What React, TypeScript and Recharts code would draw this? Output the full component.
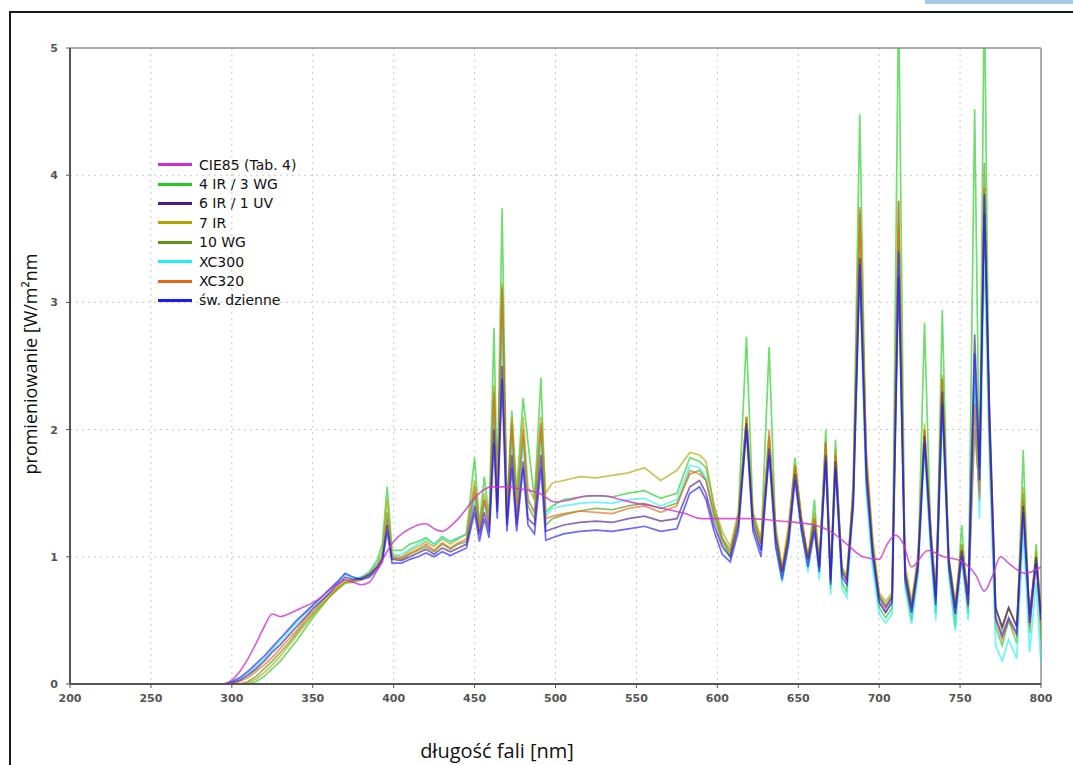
import React from 'react';
import { LineChart, Line, XAxis, YAxis, CartesianGrid, ReferenceLine } from 'recharts';

// wavelength grid shared by the lamp spectra (nm)
const wavelengths = [
  200, 295, 300, 305, 310, 315, 320, 325, 330, 335,
  340, 345, 350, 355, 360, 365, 370, 375, 380, 385,
  390, 393, 396, 399, 405, 410, 415, 420, 425, 430,
  435, 440, 445, 450, 453, 456, 459, 462, 464, 467,
  470, 473, 476, 480, 483, 487, 491, 494, 498, 505,
  515, 525, 535, 545, 555, 565, 575, 583, 589, 593,
  598, 603, 608, 613, 618, 622, 627, 632, 636, 640,
  644, 648, 652, 656, 660, 663, 667, 670, 673, 677,
  680, 684, 688, 692, 696, 700, 704, 708, 712, 716,
  720, 724, 728, 732, 735, 739, 743, 747, 751, 755,
  759, 762, 765, 768, 772, 776, 780, 785, 789, 793,
  797, 800,
];

const ir4wg3 = [
  0, 0, 0, 0, 0, 0.02, 0.06, 0.12, 0.18, 0.26,
  0.34, 0.43, 0.52, 0.6, 0.68, 0.75, 0.8, 0.82, 0.84, 0.88,
  0.98, 1.1, 1.55, 1.05, 1.05, 1.1, 1.12, 1.15, 1.1, 1.16,
  1.12, 1.15, 1.18, 1.78, 1.25, 1.63, 1.3, 2.8, 1.5, 3.74,
  1.35, 2.15, 1.5, 2.25, 1.9, 1.45, 2.41, 1.35, 1.4, 1.45,
  1.47, 1.48, 1.47, 1.5, 1.52, 1.46, 1.5, 1.78, 1.75, 1.7,
  1.4, 1.15, 1.0, 1.35, 2.73, 1.35, 1.1, 2.65, 1.2, 0.85,
  1.2, 1.78, 1.3, 0.95, 1.45, 0.9, 2.0, 0.75, 1.92, 0.8,
  0.72, 1.6, 4.48, 1.7, 1.0, 0.6, 0.52, 0.6, 5.4, 0.8,
  0.5, 0.9, 2.84, 1.1, 0.55, 2.94, 0.9, 0.45, 1.25, 0.55,
  4.52, 1.6, 5.5, 2.0, 0.45, 0.3, 0.5, 0.32, 1.84, 0.4,
  1.1, 0.35,
];

const ir6uv1 = [
  0, 0, 0.01, 0.03, 0.07, 0.12, 0.18, 0.25, 0.31, 0.38,
  0.45, 0.52, 0.59, 0.65, 0.71, 0.78, 0.84, 0.82, 0.83, 0.86,
  0.92, 0.98, 1.25, 0.98, 0.97, 1.0, 1.03, 1.06, 1.02, 1.07,
  1.04, 1.07, 1.1, 1.4, 1.17, 1.35, 1.2, 2.0, 1.35, 2.5,
  1.25, 1.8, 1.25, 1.75, 1.3, 1.25, 1.8, 1.2, 1.22, 1.25,
  1.27, 1.28, 1.27, 1.3, 1.32, 1.28, 1.3, 1.55, 1.6, 1.5,
  1.25, 1.08, 1.0, 1.25, 2.05, 1.25, 1.05, 1.85, 1.15, 0.88,
  1.15, 1.65, 1.25, 0.98, 1.25, 0.92, 1.8, 0.82, 1.75, 0.88,
  0.82, 1.45, 3.35, 1.7, 1.05, 0.68, 0.6, 0.68, 3.2, 0.88,
  0.6, 0.95, 1.95, 1.15, 0.68, 2.3, 0.98, 0.6, 1.05, 0.7,
  2.75, 1.7, 3.7, 2.25, 0.6, 0.45, 0.6, 0.45, 1.4, 0.55,
  1.0, 0.55,
];

const ir7 = [
  0, 0, 0, 0, 0.01, 0.04, 0.09, 0.15, 0.22, 0.3,
  0.38, 0.46, 0.54, 0.61, 0.68, 0.74, 0.79, 0.8, 0.83, 0.87,
  0.95, 1.05, 1.45, 1.02, 1.0, 1.05, 1.08, 1.12, 1.08, 1.14,
  1.1, 1.14, 1.18, 1.6, 1.25, 1.5, 1.3, 2.35, 1.45, 3.15,
  1.35, 2.1, 1.4, 2.1, 1.55, 1.45, 2.1, 1.5, 1.58, 1.6,
  1.63, 1.62, 1.64, 1.66, 1.7, 1.6, 1.68, 1.82, 1.8, 1.75,
  1.4, 1.2, 1.08, 1.35, 2.1, 1.35, 1.15, 1.9, 1.25, 0.92,
  1.25, 1.72, 1.3, 1.0, 1.35, 0.95, 1.85, 0.85, 1.85, 0.92,
  0.85, 1.55, 3.73, 1.85, 1.15, 0.72, 0.65, 0.72, 3.6, 0.95,
  0.65, 1.0, 2.05, 1.2, 0.72, 2.43, 1.0, 0.65, 1.1, 0.68,
  2.3, 1.6, 3.9, 2.1, 0.6, 0.42, 0.6, 0.45, 1.55, 0.5,
  1.05, 0.6,
];

const wg10 = [
  0, 0, 0, 0, 0.02, 0.06, 0.12, 0.18, 0.25, 0.32,
  0.4, 0.48, 0.55, 0.62, 0.68, 0.74, 0.8, 0.8, 0.82, 0.85,
  0.92, 1.0, 1.35, 1.0, 0.98, 1.02, 1.05, 1.08, 1.04, 1.1,
  1.06, 1.1, 1.12, 1.5, 1.2, 1.45, 1.25, 2.25, 1.4, 3.1,
  1.3, 2.0, 1.3, 1.95, 1.4, 1.3, 2.0, 1.25, 1.3, 1.33,
  1.36, 1.38, 1.37, 1.4, 1.42, 1.38, 1.42, 1.65, 1.68, 1.6,
  1.35, 1.15, 1.05, 1.3, 2.1, 1.3, 1.1, 1.95, 1.2, 0.9,
  1.2, 1.7, 1.3, 1.0, 1.3, 0.95, 1.9, 0.85, 1.8, 0.9,
  0.85, 1.5, 3.7, 1.8, 1.1, 0.7, 0.62, 0.7, 3.8, 0.9,
  0.62, 1.0, 2.0, 1.2, 0.7, 2.4, 1.0, 0.6, 1.1, 0.65,
  2.0, 1.5, 4.1, 2.2, 0.6, 0.45, 0.6, 0.45, 1.5, 0.55,
  1.0, 0.5,
];

const xc300 = [
  0, 0, 0.01, 0.04, 0.08, 0.14, 0.2, 0.27, 0.34, 0.41,
  0.48, 0.55, 0.61, 0.67, 0.73, 0.8, 0.86, 0.83, 0.84, 0.87,
  0.95, 1.02, 1.3, 1.0, 1.02, 1.06, 1.1, 1.14, 1.1, 1.15,
  1.12, 1.15, 1.18, 1.45, 1.22, 1.4, 1.3, 2.1, 1.45, 2.8,
  1.3, 1.9, 1.35, 1.9, 1.45, 1.35, 1.9, 1.32, 1.38, 1.4,
  1.42, 1.43, 1.42, 1.45, 1.46, 1.4, 1.45, 1.72, 1.7, 1.62,
  1.3, 1.1, 1.0, 1.25, 2.0, 1.25, 1.05, 1.85, 1.1, 0.8,
  1.1, 1.65, 1.2, 0.88, 1.25, 0.82, 1.8, 0.7, 1.7, 0.75,
  0.68, 1.4, 3.2, 1.5, 0.9, 0.55, 0.48, 0.55, 3.3, 0.75,
  0.47, 0.85, 1.85, 1.0, 0.5, 2.2, 0.85, 0.42, 1.0, 0.5,
  2.4, 1.3, 3.4, 1.8, 0.3, 0.18, 0.35, 0.2, 1.2, 0.25,
  0.8, 0.15,
];

const xc320 = [
  0, 0, 0, 0.02, 0.05, 0.1, 0.15, 0.21, 0.28, 0.35,
  0.42, 0.5, 0.57, 0.64, 0.7, 0.76, 0.82, 0.81, 0.83, 0.86,
  0.93, 1.0, 1.3, 0.99, 0.99, 1.03, 1.06, 1.1, 1.05, 1.11,
  1.07, 1.11, 1.14, 1.55, 1.2, 1.45, 1.25, 2.3, 1.4, 3.12,
  1.3, 2.05, 1.35, 2.0, 1.45, 1.35, 2.05, 1.3, 1.32, 1.34,
  1.36, 1.35, 1.34, 1.38, 1.4, 1.35, 1.4, 1.68, 1.65, 1.6,
  1.32, 1.12, 1.03, 1.3, 2.1, 1.3, 1.1, 2.0, 1.18, 0.88,
  1.18, 1.72, 1.28, 0.98, 1.3, 0.92, 1.9, 0.8, 1.8, 0.88,
  0.8, 1.5, 3.75, 1.75, 1.05, 0.65, 0.57, 0.66, 3.8, 0.85,
  0.57, 0.95, 2.0, 1.15, 0.65, 2.4, 0.95, 0.55, 1.05, 0.6,
  2.2, 1.45, 3.9, 2.0, 0.5, 0.35, 0.5, 0.38, 1.45, 0.45,
  0.95, 0.45,
];

const daylight = [
  0, 0, 0.02, 0.05, 0.1, 0.16, 0.22, 0.29, 0.36, 0.43,
  0.5, 0.56, 0.62, 0.68, 0.74, 0.8, 0.87, 0.84, 0.82, 0.84,
  0.9, 0.96, 1.2, 0.95, 0.95, 0.98, 1.0, 1.03, 1.0, 1.04,
  1.01, 1.04, 1.07, 1.35, 1.12, 1.3, 1.15, 1.9, 1.3, 2.4,
  1.2, 1.7, 1.2, 1.7, 1.25, 1.18, 1.7, 1.13, 1.15, 1.18,
  1.2, 1.21, 1.2, 1.22, 1.24, 1.2, 1.22, 1.5, 1.55, 1.45,
  1.2, 1.02, 0.96, 1.2, 2.0, 1.2, 1.0, 1.8, 1.08, 0.82,
  1.1, 1.6, 1.2, 0.92, 1.2, 0.88, 1.75, 0.78, 1.7, 0.84,
  0.78, 1.4, 3.3, 1.6, 1.0, 0.64, 0.56, 0.64, 3.4, 0.82,
  0.56, 0.9, 1.9, 1.08, 0.62, 2.2, 0.92, 0.55, 1.0, 0.62,
  2.6, 1.6, 3.85, 2.1, 0.52, 0.38, 0.52, 0.4, 1.35, 0.48,
  0.95, 0.5,
];

// CIE85 reference spectrum, its own coarser grid
const cie85Nm = [
  200, 295, 300, 305, 310, 315, 320, 325, 330, 335,
  340, 345, 350, 355, 360, 365, 370, 375, 380, 385,
  390, 395, 400, 405, 410, 415, 420, 425, 430, 435,
  440, 445, 450, 455, 460, 465, 470, 475, 480, 490,
  500, 510, 520, 530, 540, 550, 560, 570, 580, 590,
  600, 620, 640, 660, 670, 680, 690, 700, 705, 710,
  715, 720, 730, 740, 750, 760, 765, 770, 775, 780,
  790, 800,
];
const cie85 = [
  0, 0, 0.03, 0.1, 0.2, 0.32, 0.45, 0.55, 0.53, 0.55,
  0.58, 0.61, 0.64, 0.68, 0.74, 0.78, 0.82, 0.8, 0.78, 0.8,
  0.9, 1.02, 1.12, 1.18, 1.22, 1.25, 1.26, 1.22, 1.2, 1.24,
  1.3, 1.38, 1.46, 1.52, 1.55, 1.55, 1.55, 1.54, 1.53, 1.5,
  1.43, 1.45, 1.48, 1.48, 1.45, 1.42, 1.4, 1.37, 1.34, 1.3,
  1.3, 1.3, 1.28, 1.25, 1.2, 1.1, 1.0, 0.98, 1.1, 1.17,
  1.1, 0.92, 1.05, 1.0, 0.97, 0.85, 0.73, 0.85, 1.0, 0.95,
  0.87, 0.92,
];

const xTicks = [200, 250, 300, 350, 400, 450, 500, 550, 600, 650, 700, 750, 800];
const yTicks = [0, 1, 2, 3, 4, 5];

const legendItems = [
  { key: 'cie85', name: 'CIE85 (Tab. 4)', color: '#cc33cc' },
  { key: 'ir4wg3', name: '4 IR / 3 WG', color: '#22cc22' },
  { key: 'ir6uv1', name: '6 IR / 1 UV', color: '#4b1a8a' },
  { key: 'ir7', name: '7 IR', color: '#b0a400' },
  { key: 'wg10', name: '10 WG', color: '#5e9414' },
  { key: 'xc300', name: 'XC300', color: '#22f0f0' },
  { key: 'xc320', name: 'XC320', color: '#e0661a' },
  { key: 'daylight', name: 'św. dzienne', color: '#1a1aff' },
];

const rows = wavelengths.map((nm, i) => ({
  nm,
  ir4wg3: ir4wg3[i],
  ir6uv1: ir6uv1[i],
  ir7: ir7[i],
  wg10: wg10[i],
  xc300: xc300[i],
  xc320: xc320[i],
  daylight: daylight[i],
}));

const cieRows = cie85Nm.map((nm, i) => ({ nm, cie85: cie85[i] }));

// draw order: greens underneath, CIE85 on top
const drawOrder = ['ir4wg3', 'wg10', 'ir7', 'xc300', 'xc320', 'ir6uv1', 'daylight'];

const LegendBox = () => (
  <div
    style={{
      position: 'absolute',
      left: 158,
      top: 155,
      fontFamily: '"DejaVu Sans", Verdana, sans-serif',
      fontSize: 14,
      color: '#111',
    }}
  >
    {legendItems.map(item => (
      <div key={item.key} style={{ display: 'flex', alignItems: 'center', height: 19.4 }}>
        <span style={{ display: 'inline-block', width: 34, height: 3, background: item.color, marginRight: 7 }} />
        <span>{item.name}</span>
      </div>
    ))}
  </div>
);

const App: React.FC = () => {
  const color = (k: string) => legendItems.find(l => l.key === k)!.color;
  const tickStyle = { fontSize: 11, fontWeight: 700, fill: '#555', fontFamily: '"DejaVu Sans", Verdana, sans-serif' };

  return (
    <div style={{ position: 'absolute', left: 0, top: 0, width: 1073, height: 765, overflow: 'hidden', background: '#fff' }}>
      <div style={{ position: 'absolute', left: 925, top: 0, width: 148, height: 4, background: '#a3cbe6' }} />
      <div style={{ position: 'absolute', left: 9, top: 11, width: 1100, height: 800, border: '2px solid #1a1a1a' }} />

      <div style={{ position: 'absolute', left: 0, top: 0 }}>
        <LineChart width={1073} height={765} data={rows} margin={{ top: 48, right: 32, bottom: 41, left: 10 }}>
          <CartesianGrid stroke="#c8c8c8" strokeDasharray="2 4" />
          <XAxis
            dataKey="nm"
            type="number"
            domain={[200, 800]}
            ticks={xTicks}
            allowDataOverflow
            height={40}
            tick={tickStyle}
            tickSize={4}
            tickMargin={6}
            axisLine={{ stroke: '#555', strokeWidth: 2 }}
            tickLine={{ stroke: '#555' }}
          />
          <YAxis
            type="number"
            domain={[0, 5]}
            ticks={yTicks}
            allowDataOverflow
            width={60}
            tick={tickStyle}
            tickSize={4}
            tickMargin={8}
            axisLine={{ stroke: '#555', strokeWidth: 2 }}
            tickLine={{ stroke: '#555' }}
          />
          <ReferenceLine y={5} stroke="#aaaaaa" strokeWidth={2} />
          <ReferenceLine x={800} stroke="#aaaaaa" strokeWidth={2} />
          {drawOrder.map(k => (
            <Line
              key={k}
              dataKey={k}
              type="linear"
              stroke={color(k)}
              strokeOpacity={0.65}
              strokeWidth={1.7}
              dot={false}
              isAnimationActive={false}
            />
          ))}
          <Line
            data={cieRows}
            dataKey="cie85"
            type="monotone"
            stroke={color('cie85')}
            strokeOpacity={0.8}
            strokeWidth={1.6}
            dot={false}
            isAnimationActive={false}
          />
        </LineChart>
      </div>

      <LegendBox />

      <div
        style={{
          position: 'absolute',
          left: 30,
          top: 364,
          transform: 'translate(-50%, -50%) rotate(-90deg)',
          whiteSpace: 'nowrap',
          fontFamily: '"Open Sans", "DejaVu Sans", sans-serif',
          fontSize: 18,
          color: '#111',
        }}
      >
        promieniowanie [W/m²nm
      </div>
      <div
        style={{
          position: 'absolute',
          left: 497,
          top: 750,
          transform: 'translate(-50%, -50%)',
          whiteSpace: 'nowrap',
          fontFamily: '"Liberation Sans Narrow", "Open Sans", sans-serif',
          fontSize: 20,
          color: '#111',
        }}
      >
        długość fali [nm]
      </div>
    </div>
  );
};

export default App;
